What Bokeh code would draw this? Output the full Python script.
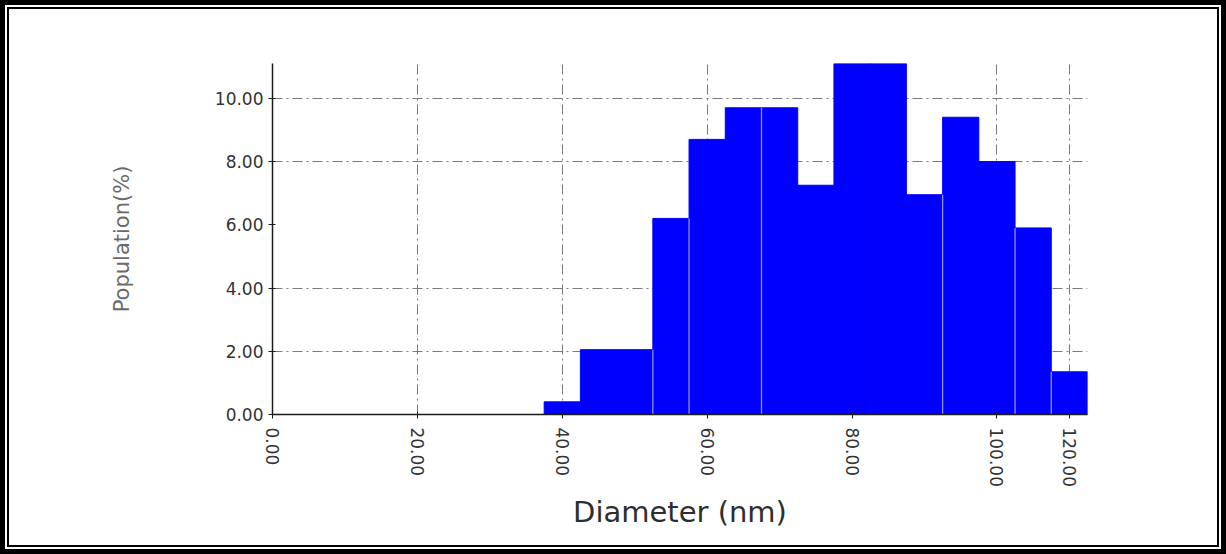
import math
from bokeh.plotting import figure
from bokeh.models import FixedTicker, NumeralTickFormatter
from bokeh.layouts import column
from bokeh.embed import file_html
from bokeh.resources import INLINE

# ---- data ----
bin_centers = [40, 45, 50, 55, 60, 65, 70, 75, 80, 85, 90, 95, 100, 105, 110]
population = [0.4, 2.05, 2.05, 6.2, 8.7, 9.7, 9.7, 7.25, 11.4, 11.4, 6.95, 9.4, 8.0, 5.9, 1.35]
bin_width = 5
separator_edges = [52.5, 57.5, 67.5, 92.5, 102.5, 107.5]

x_tick_values = [0, 20, 40, 60, 80, 100, 110]
x_tick_labels = ["0.00", "20.00", "40.00", "60.00", "80.00", "100.00", "120.00"]
x_grid_values = [20, 40, 60, 80, 100, 110]
y_tick_values = [0, 2, 4, 6, 8, 10]
y_grid_values = [2, 4, 8, 10]
x_max = 112.5
y_max = 11.1

FONT = "DejaVu Sans"

p = figure(frame_width=815, frame_height=351,
           x_range=(0, x_max), y_range=(0, y_max),
           output_backend="svg", toolbar_location=None,
           min_border_left=263, min_border_top=54,
           min_border_right=130, min_border_bottom=131,
           x_axis_label="Diameter (nm)", y_axis_label="Population(%)")
p.outline_line_color = None
p.background_fill_color = "white"
p.border_fill_color = "white"

p.vbar(x=bin_centers, top=population, width=bin_width,
       fill_color="#0000ff", line_color="#0000ff", line_width=1)

# faint separators between some neighbouring bins
sx, sy = [], []
for e in separator_edges:
    i = bin_centers.index(e - bin_width / 2)
    sx.append(e)
    sy.append(min(population[i], population[i + 1]))
p.segment(x0=sx, y0=[0] * len(sx), x1=sx, y1=sy,
          line_color="#9090ff", line_width=1.3)

# grids
for g in (p.xgrid, p.ygrid):
    g.grid_line_color = "#7a7a7a"
    g.grid_line_dash = "10 4 2 4"
    g.grid_line_width = 1
p.xgrid.ticker = FixedTicker(ticks=x_grid_values)
p.ygrid.ticker = FixedTicker(ticks=y_grid_values + [y_max])

# axes
xa = p.xaxis[0]
ya = p.yaxis[0]
xa.ticker = FixedTicker(ticks=x_tick_values)
xa.major_label_overrides = {v: l for v, l in zip(x_tick_values, x_tick_labels)}
xa.major_label_orientation = -math.pi / 2
ya.ticker = FixedTicker(ticks=y_tick_values)
ya.formatter = NumeralTickFormatter(format="0.00")

for ax in (xa, ya):
    ax.axis_line_color = "#1a1a1a"
    ax.axis_line_width = 1.5
    ax.major_tick_line_color = "#1a1a1a"
    ax.major_tick_in = 3
    ax.major_tick_out = 4
    ax.minor_tick_line_color = None
    ax.major_label_text_font = FONT
    ax.major_label_text_font_size = "17px"
    ax.major_label_text_color = "#333333"
    ax.axis_label_text_font = FONT
    ax.axis_label_text_font_style = "normal"

xa.major_label_standoff = 9
xa.axis_label_standoff = 5
xa.axis_label_text_font_size = "29px"
xa.axis_label_text_color = "#2e2e2e"

ya.major_label_standoff = 5
ya.axis_label_standoff = 78
ya.axis_label_text_font_size = "21px"
ya.axis_label_text_color = "#6a6a6a"

inner = column(p, styles={"border": "2px solid black", "background": "white"})
outer = column(inner, styles={"border": "5px solid black", "padding": "2px",
                              "background": "white"})

open("out.html", "w").write(file_html(outer, INLINE))
